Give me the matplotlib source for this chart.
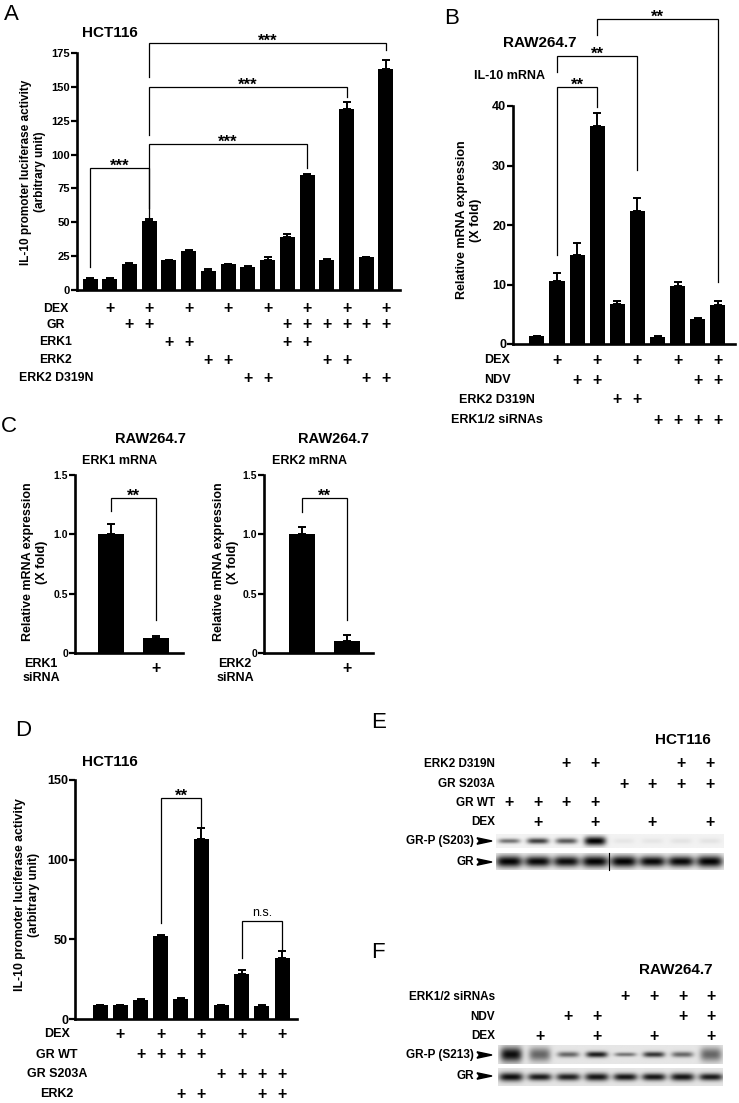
import numpy as np
import matplotlib
matplotlib.use('Agg')
import matplotlib.pyplot as plt
from matplotlib.patches import Polygon
from matplotlib.transforms import blended_transform_factory

plt.rcParams['font.family'] = ['Liberation Sans', 'DejaVu Sans']

W, H = 739, 1103

# ---------------- data ----------------
# Panel A (HCT116, IL-10 promoter luciferase)
A_values = [8, 8, 19, 51, 22, 29, 14, 19, 17, 22, 39, 85, 22, 134, 24, 163]
A_errors = [0.5, 0.5, 0.8, 1.5, 0.5, 0.5, 1.5, 0.5, 0.5, 2.0, 2.5, 0.5, 0.8, 5.0, 0.5, 7.0]
A_labels = ['DEX', 'GR', 'ERK1', 'ERK2', 'ERK2 D319N']
A_dex = [0, 1, 0, 1, 0, 1, 0, 1, 0, 1, 0, 1, 0, 1, 0, 1]
A_gr = [0, 0, 1, 1, 0, 0, 0, 0, 0, 0, 1, 1, 1, 1, 1, 1]
A_erk1 = [0, 0, 0, 0, 1, 1, 0, 0, 0, 0, 1, 1, 0, 0, 0, 0]
A_erk2 = [0, 0, 0, 0, 0, 0, 1, 1, 0, 0, 0, 0, 1, 1, 0, 0]
A_d319n = [0, 0, 0, 0, 0, 0, 0, 0, 1, 1, 0, 0, 0, 0, 1, 1]
A_yticks = [0, 25, 50, 75, 100, 125, 150, 175]
# (bar1, bar2, top, left leg end, right leg end, label)
A_brackets = [(0, 3, 90, 17, 54, '***'), (3, 11, 108, 60.5, 90, '***'),
              (3, 13, 150, 114.5, 142.5, '***'), (3, 15, 182.5, 157, 177, '***')]

# Panel B (RAW264.7, IL-10 mRNA)
B_values = [1.3, 10.6, 15.0, 36.7, 6.8, 22.3, 1.2, 9.7, 4.2, 6.6]
B_errors = [0.1, 1.3, 2.0, 2.2, 0.5, 2.2, 0.1, 0.8, 0.2, 0.7]
B_labels = ['DEX', 'NDV', 'ERK2 D319N', 'ERK1/2 siRNAs']
B_dex = [0, 1, 0, 1, 0, 1, 0, 1, 0, 1]
B_ndv = [0, 0, 1, 1, 0, 0, 0, 0, 1, 1]
B_d319n = [0, 0, 0, 0, 1, 1, 0, 0, 0, 0]
B_sirna = [0, 0, 0, 0, 0, 0, 1, 1, 1, 1]
B_yticks = [0, 10, 20, 30, 40]
B_brackets = [(1, 3, 43.2, 15, 39.8, '**'), (1, 5, 48.4, 45.7, 29.2, '**'),
              (3, 9, 54.6, 51.9, 10.4, '**')]

# Panel C (RAW264.7, ERK1 / ERK2 mRNA)
C1_values = [1.0, 0.13]
C1_errors = [0.09, 0.01]
C2_values = [1.0, 0.10]
C2_errors = [0.06, 0.05]
C_sirna = [0, 1]
C_yticks = [0, 0.5, 1.0, 1.5]
C1_brackets = [(0, 1, 1.31, 1.2, 0.28, '**')]
C2_brackets = [(0, 1, 1.31, 1.19, 0.28, '**')]

# Panel D (HCT116, IL-10 promoter luciferase)
D_values = [8.5, 8.5, 12, 52, 12.5, 113, 8.5, 28, 8, 38]
D_errors = [0.5, 0.5, 0.5, 0.5, 0.5, 7.0, 0.5, 2.5, 0.5, 4.5]
D_labels = ['DEX', 'GR WT', 'GR S203A', 'ERK2']
D_dex = [0, 1, 0, 1, 0, 1, 0, 1, 0, 1]
D_grwt = [0, 0, 1, 1, 1, 1, 0, 0, 0, 0]
D_s203a = [0, 0, 0, 0, 0, 0, 1, 1, 1, 1]
D_erk2 = [0, 0, 0, 0, 1, 1, 0, 0, 1, 1]
D_yticks = [0, 50, 100, 150]
D_brackets = [(3, 5, 138.7, 60.3, 120.5, '**'), (7, 9, 61.5, 38.3, 43.3, 'n.s.')]

# Panel E (HCT116 western blot)
E_labels = ['ERK2 D319N', 'GR S203A', 'GR WT', 'DEX']
E_d319n = [0, 0, 1, 1, 0, 0, 1, 1]
E_s203a = [0, 0, 0, 0, 1, 1, 1, 1]
E_grwt = [1, 1, 1, 1, 0, 0, 0, 0]
E_dex = [0, 1, 0, 1, 0, 1, 0, 1]
E_grp_int = [0.5, 0.7, 0.6, 0.95, 0.05, 0.05, 0.06, 0.06]
E_grp_spread = [0.35, 0.42, 0.42, 0.65, 0.4, 0.4, 0.4, 0.4]
E_gr_int = [0.92, 0.9, 0.88, 0.92, 0.92, 0.9, 0.9, 0.92]
E_gr_spread = [0.7, 0.65, 0.65, 0.7, 0.7, 0.65, 0.65, 0.7]

# Panel F (RAW264.7 western blot)
F_labels = ['ERK1/2 siRNAs', 'NDV', 'DEX']
F_sirna = [0, 0, 0, 0, 1, 1, 1, 1]
F_ndv = [0, 0, 1, 1, 0, 0, 1, 1]
F_dex = [0, 1, 0, 1, 0, 1, 0, 1]
F_grp_int = [0.85, 0.5, 0.5, 0.8, 0.45, 0.7, 0.5, 0.5]
F_grp_spread = [0.8, 0.75, 0.3, 0.32, 0.22, 0.3, 0.3, 0.75]
F_gr_int = [0.85, 0.8, 0.78, 0.82, 0.82, 0.82, 0.82, 0.8]
F_gr_spread = [0.5, 0.42, 0.42, 0.45, 0.42, 0.42, 0.45, 0.42]

# ---------------- figure ----------------
fig = plt.figure(figsize=(W / 100, H / 100), dpi=100)


def fx(x):
    return x / W


def fy(y):
    return 1 - y / H


def add_ax(l, r, t, b):
    return fig.add_axes([fx(l), fy(b), (r - l) / W, (b - t) / H])


def fmt(t):
    return ('%g' % t) if float(t).is_integer() else ('%.1f' % t)


def style_bar_axes(ax, xlim, ylim, yticks, tick_fs, decimals=False):
    ax.set_xlim(*xlim)
    ax.set_ylim(*ylim)
    for s in ('top', 'right'):
        ax.spines[s].set_visible(False)
    for s in ('left', 'bottom'):
        ax.spines[s].set_linewidth(1.9)
    ax.set_xticks([])
    ax.set_yticks(yticks)
    labs = [('%.1f' % t) if decimals and t != 0 else fmt(t) for t in yticks]
    ax.set_yticklabels(labs, fontsize=tick_fs, fontweight='bold')
    ax.tick_params(axis='y', direction='out', length=4, width=1.6, pad=1)
    ax.patch.set_alpha(0)


def draw_bars(ax, values, errors, width):
    x = np.arange(len(values))
    ax.bar(x, values, width=width, color='black', zorder=2)
    ax.errorbar(x, values, yerr=[np.zeros(len(values)), errors], fmt='none',
                ecolor='black', elinewidth=1.4, capsize=2.8, capthick=1.4,
                zorder=3, clip_on=False)


def draw_brackets(ax, brackets, fs_star=12):
    for x1, x2, top, lb, rb, lab in brackets:
        ax.plot([x1, x1, x2, x2], [lb, top, top, rb], color='black', lw=0.9,
                clip_on=False, solid_joinstyle='miter')
        if lab == 'n.s.':
            ax.annotate(lab, xy=((x1 + x2) / 2, top), xytext=(0, 3.5),
                        textcoords='offset points', ha='center', va='baseline',
                        fontsize=9, fontweight='normal', annotation_clip=False)
        else:
            ax.annotate(lab, xy=((x1 + x2) / 2, top), xytext=(0, -2.2),
                        textcoords='offset points', ha='center', va='baseline',
                        fontsize=fs_star, fontweight='bold', annotation_clip=False)


def cond_rows(ax, rows, labels, ys_px, label_x_px, fs, plus_fs, ha='center'):
    tr = blended_transform_factory(ax.transData, fig.transFigure)
    for row, lab, ypx in zip(rows, labels, ys_px):
        fig.text(fx(label_x_px), fy(ypx), lab, ha=ha, va='center',
                 fontsize=fs, fontweight='bold')
        for i, v in enumerate(row):
            if v:
                ax.text(i, fy(ypx), '+', transform=tr, ha='center', va='center',
                        fontsize=plus_fs, fontweight='bold', clip_on=False)


def panel_letter(x, y, s):
    fig.text(fx(x), fy(y), s, ha='center', va='center', fontsize=16)


def title(x, y, s, fs=11):
    fig.text(fx(x), fy(y), s, ha='center', va='center', fontsize=fs,
             fontweight='bold')


def ylabel(x, y, s, fs):
    fig.text(fx(x), fy(y), s, rotation=90, ha='center', va='center',
             fontsize=fs, fontweight='bold', linespacing=1.15)


# ---- Panel A ----
axA = add_ax(77, 400, 53, 290)
draw_bars(axA, A_values, A_errors, 0.76)
style_bar_axes(axA, (-0.66, 15.71), (0, 175), A_yticks, 8)
draw_brackets(axA, A_brackets)
cond_rows(axA, [A_dex, A_gr, A_erk1, A_erk2, A_d319n], A_labels,
          [309, 325, 342, 360, 378], 56, 8.8, 11.5)
panel_letter(11, 15, 'A')
title(110, 33, 'HCT116')
ylabel(33, 172, 'IL-10 promoter luciferase activity\n(arbitrary unit)', 8.5)

# ---- Panel B ----
axB = add_ax(513, 735, 106, 344)
draw_bars(axB, B_values, B_errors, 0.75)
style_bar_axes(axB, (-1.19, 9.85), (0, 40), B_yticks, 9)
draw_brackets(axB, B_brackets)
cond_rows(axB, [B_dex, B_ndv, B_d319n, B_sirna], B_labels,
          [360, 380, 400, 420], 497, 9, 11.5)
panel_letter(452, 18, 'B')
title(540, 43, 'RAW264.7')
title(509, 76, 'IL-10 mRNA', 9)
ylabel(469, 220, 'Relative mRNA expression\n(X fold)', 9)

# ---- Panel C ----
axC1 = add_ax(75, 183, 475, 653)
draw_bars(axC1, C1_values, C1_errors, 0.58)
style_bar_axes(axC1, (-0.8, 1.6), (0, 1.5), C_yticks, 7.5, decimals=True)
draw_brackets(axC1, C1_brackets)
axC2 = add_ax(264, 373, 475, 653)
draw_bars(axC2, C2_values, C2_errors, 0.58)
style_bar_axes(axC2, (-0.84, 1.58), (0, 1.5), C_yticks, 7.5, decimals=True)
draw_brackets(axC2, C2_brackets)
for ax, lab, lx in ((axC1, 'ERK1\nsiRNA', 41), (axC2, 'ERK2\nsiRNA', 235)):
    tr = blended_transform_factory(ax.transData, fig.transFigure)
    fig.text(fx(lx), fy(671), lab, ha='center', va='center', fontsize=9,
             fontweight='bold', linespacing=1.25)
    for i, v in enumerate(C_sirna):
        if v:
            ax.text(i, fy(668), '+', transform=tr, ha='center', va='center',
                    fontsize=11.5, fontweight='bold')
panel_letter(9, 427, 'C')
title(150, 439, 'RAW264.7', 10.5)
title(120, 461, 'ERK1 mRNA', 9)
title(333, 439, 'RAW264.7', 10.5)
title(310, 461, 'ERK2 mRNA', 9)
ylabel(35, 562, 'Relative mRNA expression\n(X fold)', 9)
ylabel(226, 562, 'Relative mRNA expression\n(X fold)', 9)

# ---- Panel D ----
axD = add_ax(75, 297, 780, 1019)
draw_bars(axD, D_values, D_errors, 0.74)
style_bar_axes(axD, (-1.24, 9.74), (0, 150), D_yticks, 9)
draw_brackets(axD, D_brackets)
cond_rows(axD, [D_dex, D_grwt, D_s203a, D_erk2], D_labels,
          [1034, 1055, 1074, 1094], 57, 9, 11.5)
panel_letter(23, 730, 'D')
title(110, 762, 'HCT116')
ylabel(27, 895, 'IL-10 promoter luciferase activity\n(arbitrary unit)', 8.8)


# ---- Blots ----
def blot(ax, intens, spreads, y_top, y_bot, bg, xlim, wx):
    xs = np.linspace(xlim[0], xlim[1], 460)
    ys = np.linspace(-1, 1, 40)
    X, Y = np.meshgrid(xs, ys)
    dark = np.zeros_like(X)
    for i, (a, s) in enumerate(zip(intens, spreads)):
        dark += a * np.exp(-np.abs((X - i) / wx) ** 4) * np.exp(-(Y / s) ** 2)
    img = np.clip(bg - dark, 0, 1)
    ax.imshow(img, cmap='gray', vmin=0, vmax=1, aspect='auto',
              extent=[xlim[0], xlim[1], y_bot, y_top], interpolation='bilinear')


def arrow(x0, x1, y):
    fig.add_artist(Polygon([[fx(x0), fy(y - 3.2)], [fx(x1), fy(y)],
                            [fx(x0), fy(y + 3.2)], [fx(x0 + 2.5), fy(y)]],
                           closed=True, color='black', transform=fig.transFigure))


def blot_panel(l, r, t, b, lane0, pitch, rows, labels, row_ys, strips,
               band_labels):
    ax = add_ax(l, r, t, b)
    xl = ((l - lane0) / pitch, (r - lane0) / pitch)
    for intens, spreads, yt, yb, bg, wx in strips:
        blot(ax, intens, spreads, yt, yb, bg, xl, wx)
    ax.set_xlim(*xl)
    ax.set_ylim(b, t)
    ax.axis('off')
    for row, lab, ypx in zip(rows, labels, row_ys):
        fig.text(fx(495), fy(ypx), lab, ha='right', va='center', fontsize=8.5,
                 fontweight='bold')
        for i, v in enumerate(row):
            if v:
                ax.text(i, ypx, '+', ha='center', va='center', fontsize=11.5,
                        fontweight='bold', clip_on=False)
    for lab, ypx in band_labels:
        fig.text(fx(474), fy(ypx), lab, ha='right', va='center', fontsize=8.5,
                 fontweight='bold')
        arrow(477, 492, ypx)
    return ax


axE = blot_panel(496, 724, 750, 872, 509, 28.7,
                 [E_d319n, E_s203a, E_grwt, E_dex], E_labels,
                 [764, 784, 803, 822],
                 [(E_grp_int, E_grp_spread, 834, 848, 0.95, 0.38),
                  (E_gr_int, E_gr_spread, 853, 870, 0.93, 0.46)],
                 [('GR-P (S203)', 841), ('GR', 862)])
axE.plot([3.48, 3.48], [853, 870], color='black', lw=0.8)
panel_letter(379, 722, 'E')
title(683, 740, 'HCT116')

axF = blot_panel(498, 723, 985, 1090, 511, 28.6,
                 [F_sirna, F_ndv, F_dex], F_labels, [997, 1017, 1036],
                 [(F_grp_int, F_grp_spread, 1045, 1064, 0.9, 0.38),
                  (F_gr_int, F_gr_spread, 1068, 1086, 0.9, 0.42)],
                 [('GR-P (S213)', 1055), ('GR', 1076)])
panel_letter(378, 953, 'F')
title(676, 970, 'RAW264.7')

fig.savefig('out.png', dpi=100)
